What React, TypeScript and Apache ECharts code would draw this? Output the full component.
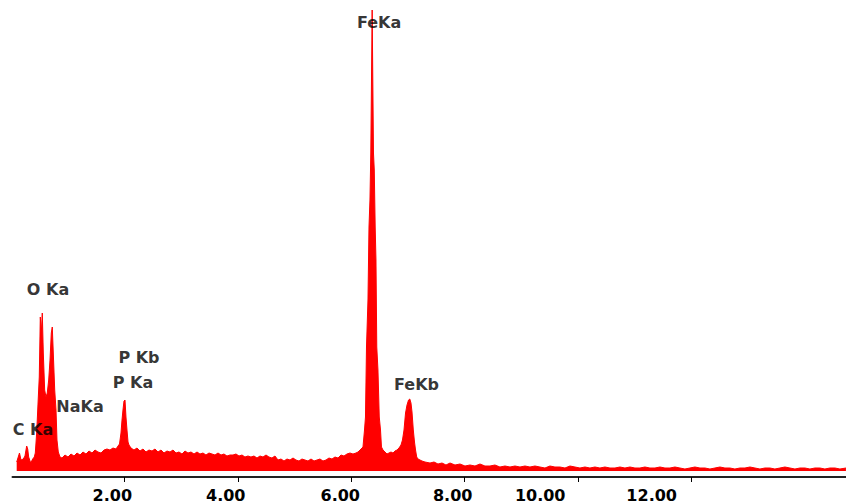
import React, { useEffect, useRef } from "react";
import * as echarts from "echarts";

// EDS spectrum, [energy keV, counts]
const lowEnergy: [number, number][] = [
  [0.104, 90], [0.153, 180], [0.18, 110], [0.22, 120], [0.25, 150], [0.28, 250],
  [0.298, 220], [0.315, 140], [0.351, 80], [0.386, 120], [0.414, 140], [0.432, 180],
  [0.444, 280], [0.456, 380], [0.485, 740], [0.502, 940], [0.52, 1540], [0.538, 1380],
  [0.555, 1580], [0.573, 1180], [0.597, 810], [0.62, 740], [0.643, 780], [0.668, 910],
  [0.691, 1110], [0.714, 1380], [0.731, 1440], [0.749, 1180], [0.774, 810], [0.797, 610],
  [0.814, 310], [0.837, 190], [0.867, 140],
];

const phosphorusRegion: [number, number][] = [
  [0.902, 130], [0.955, 160], [1.008, 140], [1.061, 170], [1.114, 150], [1.167, 180],
  [1.22, 160], [1.272, 190], [1.325, 170], [1.378, 200], [1.431, 180], [1.484, 210],
  [1.537, 190], [1.59, 180], [1.643, 210], [1.695, 220], [1.748, 210], [1.801, 230],
  [1.854, 220], [1.89, 250], [1.916, 270], [1.942, 380], [1.96, 510], [1.977, 610],
  [1.995, 700], [2.013, 710], [2.03, 540], [2.048, 410], [2.066, 290], [2.083, 260],
  [2.118, 230], [2.171, 210], [2.224, 230], [2.277, 200], [2.33, 220], [2.383, 190],
  [2.436, 210], [2.489, 200], [2.541, 220], [2.594, 190], [2.647, 210], [2.7, 180],
  [2.753, 200], [2.806, 190], [2.859, 210], [2.912, 180], [2.964, 190],
];

const background: [number, number][] = [
  [3.017, 170], [3.07, 200], [3.123, 180], [3.176, 190], [3.229, 170], [3.282, 190],
  [3.334, 170], [3.387, 180], [3.44, 160], [3.493, 180], [3.546, 170], [3.599, 160],
  [3.652, 180], [3.705, 160], [3.757, 170], [3.81, 150], [3.863, 160], [3.916, 160],
  [3.969, 170], [4.022, 150], [4.075, 160], [4.127, 140], [4.18, 150], [4.233, 140],
  [4.286, 150], [4.339, 130], [4.392, 150], [4.445, 140], [4.498, 160], [4.55, 140],
  [4.603, 130], [4.656, 150], [4.709, 110], [4.762, 120], [4.815, 100], [4.868, 120],
  [4.921, 110], [4.974, 130], [5.026, 110], [5.079, 100], [5.132, 120], [5.185, 110],
  [5.238, 100], [5.291, 120], [5.344, 100], [5.397, 110], [5.449, 120], [5.502, 100],
  [5.555, 110], [5.608, 130], [5.661, 120], [5.714, 140], [5.767, 130], [5.82, 160],
  [5.872, 150], [5.925, 170], [5.978, 180], [6.031, 170], [6.084, 180], [6.119, 190],
  [6.155, 210],
];

const ironPeaks: [number, number][] = [
  [6.207, 240], [6.234, 410], [6.251, 540], [6.269, 1240], [6.295, 1710], [6.313, 2440],
  [6.33, 2710], [6.345, 3180], [6.357, 3910], [6.369, 4610], [6.38, 4610], [6.392, 3180],
  [6.406, 3010], [6.422, 2440], [6.436, 2110], [6.45, 1240], [6.471, 1010], [6.494, 540],
  [6.516, 410], [6.533, 240], [6.56, 210], [6.595, 190], [6.63, 170], [6.665, 180],
  [6.701, 190], [6.736, 180], [6.771, 200], [6.806, 210], [6.842, 230], [6.877, 260],
  [6.903, 310], [6.93, 410], [6.957, 580], [6.983, 660], [7.01, 710], [7.032, 720],
  [7.053, 680], [7.071, 590], [7.094, 410], [7.115, 290], [7.133, 210], [7.154, 140],
  [7.177, 120], [7.212, 110], [7.247, 100],
];

const highEnergyTail: [number, number][] = [
  [7.3, 90], [7.388, 80], [7.459, 90], [7.529, 70], [7.6, 80], [7.67, 60], [7.741, 80],
  [7.829, 60], [7.917, 70], [8.005, 50], [8.093, 60], [8.181, 50], [8.269, 70], [8.357, 50],
  [8.445, 50], [8.533, 60], [8.621, 40], [8.71, 50], [8.798, 40], [8.886, 50], [8.974, 40],
  [9.062, 50], [9.15, 40], [9.238, 50], [9.326, 40], [9.414, 30], [9.502, 50], [9.59, 40],
  [9.678, 40], [9.767, 30], [9.855, 50], [9.943, 40], [10.031, 30], [10.119, 40], [10.207, 30],
  [10.295, 40], [10.383, 30], [10.471, 40], [10.56, 30], [10.648, 30], [10.736, 40], [10.824, 30],
  [10.912, 40], [11.0, 30], [11.088, 30], [11.176, 40], [11.264, 30], [11.353, 30], [11.441, 40],
  [11.529, 30], [11.617, 30], [11.705, 40], [11.793, 30], [11.881, 20], [11.969, 30], [12.057, 40],
  [12.146, 30], [12.234, 30], [12.322, 20], [12.41, 30], [12.498, 40], [12.586, 30], [12.674, 30],
  [12.762, 20], [12.85, 30], [12.939, 30], [13.027, 40], [13.115, 30], [13.203, 20], [13.291, 30],
  [13.379, 30], [13.467, 20], [13.555, 30], [13.643, 40], [13.732, 30], [13.82, 20], [13.908, 30],
  [13.996, 30], [14.084, 20], [14.172, 30], [14.26, 30], [14.348, 20], [14.436, 30], [14.525, 30],
  [14.613, 20], [14.719, 30],
];

const tickValues = [2, 4, 6, 8, 10, 12];

const peakLabels = ["FeKa", "O Ka", "P Kb", "P Ka", "NaKa", "C Ka", "FeKb"];
const labelKeV = [6.49, 0.656, 2.259, 2.154, 1.22, 0.391, 7.15];
const labelCounts = [4490, 1820, 1140, 890, 650, 420, 870];

const FONT = "'DejaVu Sans', Verdana, sans-serif";

export default function App() {
  const ref = useRef<HTMLDivElement>(null);
  useEffect(() => {
    if (!ref.current) return;
    const chart = echarts.init(ref.current, null, { renderer: "svg" });
    const spectrum = [...lowEnergy, ...phosphorusRegion, ...background, ...ironPeaks, ...highEnergyTail];
    const labelShift = [12, 12, 11, 12, 38, 40];
    const rich: Record<string, any> = {};
    labelShift.forEach((s, i) => {
      rich["t" + i] = {
        padding: [0, 2 * s, 0, 0],
        fontFamily: FONT,
        fontWeight: "bold",
        fontSize: 16,
        color: "#000",
      };
    });
    chart.setOption({
      animation: false,
      backgroundColor: "#fff",
      grid: { left: 12.5, right: 0, top: 0, bottom: 26, containLabel: false, outerBoundsMode: "none" },
      xAxis: {
        type: "value",
        min: 0.03,
        max: 14.72,
        splitLine: { show: false },
        axisLine: { onZero: false, lineStyle: { color: "#222", width: 2 } },
        axisTick: { customValues: tickValues, length: 5, lineStyle: { color: "#000", width: 1 } },
        axisLabel: {
          customValues: tickValues,
          margin: 10,
          formatter: (v: number) => {
            const i = tickValues.indexOf(v);
            return `{t${i}|${v.toFixed(2)}}`;
          },
          rich,
        },
      },
      yAxis: { type: "value", min: -60, max: 4710, show: false },
      series: [
        {
          type: "line",
          data: spectrum,
          showSymbol: false,
          silent: true,
          lineStyle: { color: "#ff0000", width: 1 },
          areaStyle: { color: "#ff0000", opacity: 1 },
          z: 2,
        },
        {
          type: "scatter",
          data: peakLabels.map((n, i) => ({ name: n, value: [labelKeV[i], labelCounts[i]] })),
          symbolSize: 0,
          silent: true,
          z: 3,
          label: {
            show: true,
            position: "inside",
            formatter: "{b}",
            color: "#000",
            textBorderWidth: 0,
            fontFamily: FONT,
            fontWeight: "bold",
            fontSize: 16,
          },
        },
      ],
    });
    return () => chart.dispose();
  }, []);
  return <div ref={ref} style={{ position: "fixed", left: 0, top: 0, width: 846, height: 503 }} />;
}
